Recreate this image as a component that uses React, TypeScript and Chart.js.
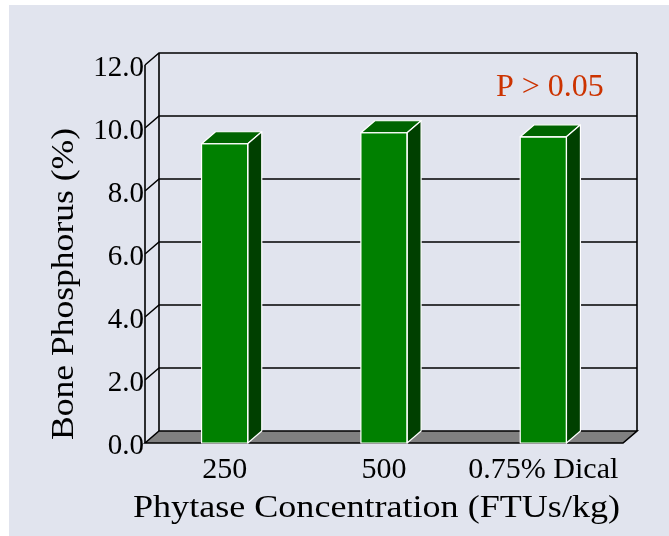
import React, { useEffect, useRef } from "react";
import { Chart, registerables } from "chart.js";

Chart.register(...registerables);

const categories = ["250", "500", "0.75% Dical"];
const boneP = [9.5, 9.85, 9.72];
const yTicks = [0, 2, 4, 6, 8, 10, 12];
const xTitle = "Phytase Concentration (FTUs/kg)";
const yTitle = "Bone Phosphorus (%)";
const note = "P > 0.05";

const FONT = "'Liberation Serif', 'Times New Roman', serif";
const BG = "#e1e4ee";
const DX = 14;
const DY = -12;

function stretchedText(ctx: any, text: string, x: number, y: number, targetW: number, rot: number) {
  const w = ctx.measureText(text).width;
  ctx.save();
  ctx.translate(x, y);
  ctx.rotate(rot);
  ctx.scale(targetW / w, 1);
  ctx.fillText(text, 0, 0);
  ctx.restore();
}

const threeD = {
  id: "threeD",
  beforeDatasetsDraw(chart: any) {
    const { ctx, chartArea, scales } = chart;
    const { left: L, right: R, top: T, bottom: B } = chartArea;
    const ys = scales.y;
    ctx.save();
    ctx.beginPath();
    ctx.moveTo(L, B);
    ctx.lineTo(L + DX, B + DY);
    ctx.lineTo(R + DX, B + DY);
    ctx.lineTo(R, B);
    ctx.closePath();
    ctx.fillStyle = "#808080";
    ctx.fill();
    ctx.strokeStyle = "#000";
    ctx.lineWidth = 1.6;
    ctx.stroke();
    ctx.lineWidth = 1.5;
    for (const v of yTicks) {
      if (v === 0) continue;
      const y = ys.getPixelForValue(v);
      ctx.beginPath();
      ctx.moveTo(L, y);
      ctx.lineTo(L + DX, y + DY);
      ctx.lineTo(R + DX, y + DY);
      ctx.stroke();
    }
    ctx.lineWidth = 1.6;
    ctx.beginPath();
    ctx.moveTo(L, T);
    ctx.lineTo(L, B);
    ctx.moveTo(L + DX, T + DY);
    ctx.lineTo(L + DX, B + DY);
    ctx.moveTo(R + DX, T + DY);
    ctx.lineTo(R + DX, B + DY);
    ctx.stroke();
    ctx.restore();
  },
  afterDatasetsDraw(chart: any) {
    const { ctx } = chart;
    const meta = chart.getDatasetMeta(0);
    ctx.save();
    ctx.strokeStyle = "#ffffff";
    ctx.lineWidth = 1.2;
    ctx.lineJoin = "round";
    for (const el of meta.data) {
      const { x, y, width, base } = el.getProps(["x", "y", "width", "base"], true);
      const l = x - width / 2;
      const r = x + width / 2;
      ctx.beginPath();
      ctx.moveTo(l, y);
      ctx.lineTo(l + DX, y + DY);
      ctx.lineTo(r + DX, y + DY);
      ctx.lineTo(r, y);
      ctx.closePath();
      ctx.fillStyle = "#006400";
      ctx.fill();
      ctx.stroke();
      ctx.beginPath();
      ctx.moveTo(r, y);
      ctx.lineTo(r + DX, y + DY);
      ctx.lineTo(r + DX, base + DY);
      ctx.lineTo(r, base);
      ctx.closePath();
      ctx.fillStyle = "#004000";
      ctx.fill();
      ctx.stroke();
      ctx.strokeRect(l, y, width, base - y);
    }
    ctx.restore();
  },
  afterDraw(chart: any) {
    const { ctx } = chart;
    ctx.save();
    ctx.font = `31px ${FONT}`;
    ctx.fillStyle = "#000";
    ctx.textAlign = "center";
    ctx.textBaseline = "alphabetic";
    stretchedText(ctx, xTitle, 367.5, 511.5, 487, 0);
    stretchedText(ctx, yTitle, 64, 279, 312, -Math.PI / 2);
    ctx.font = `32px ${FONT}`;
    ctx.fillStyle = "#cc3300";
    ctx.textAlign = "left";
    ctx.fillText(note, 487, 91);
    ctx.restore();
  },
};

export default function App() {
  const ref = useRef<HTMLCanvasElement | null>(null);
  useEffect(() => {
    if (!ref.current) return;
    const chart = new Chart(ref.current, {
      type: "bar",
      data: {
        labels: categories,
        datasets: [
          {
            data: boneP,
            backgroundColor: "#008000",
            borderWidth: 0,
            barPercentage: 0.29,
            categoryPercentage: 1,
          },
        ],
      },
      options: {
        animation: false,
        responsive: false,
        maintainAspectRatio: false,
        layout: { padding: { top: 60, right: 46, left: 0, bottom: 0 } },
        plugins: { legend: { display: false }, tooltip: { enabled: false } },
        scales: {
          x: {
            grid: { display: false, drawTicks: false },
            border: { display: false },
            ticks: {
              color: "#000",
              font: { family: FONT, size: 30 },
              padding: 9,
              maxRotation: 0,
              autoSkip: false,
            },
            afterFit: (s: any) => {
              s.height = 93;
            },
          },
          y: {
            min: 0,
            max: 12,
            grid: { display: false, drawTicks: false },
            border: { display: false },
            ticks: {
              stepSize: 2,
              color: "#000",
              font: { family: FONT, size: 29 },
              padding: 1,
              labelOffset: 3,
              callback: (v: any) => Number(v).toFixed(1),
            },
            afterFit: (s: any) => {
              s.width = 136;
            },
          },
        },
      },
      plugins: [threeD],
    });
    return () => chart.destroy();
  }, []);
  return (
    <div style={{ position: "absolute", left: 9, top: 5, width: 660, height: 531, background: BG }}>
      <canvas ref={ref} width={660} height={531} style={{ display: "block", width: 660, height: 531 }} />
    </div>
  );
}
